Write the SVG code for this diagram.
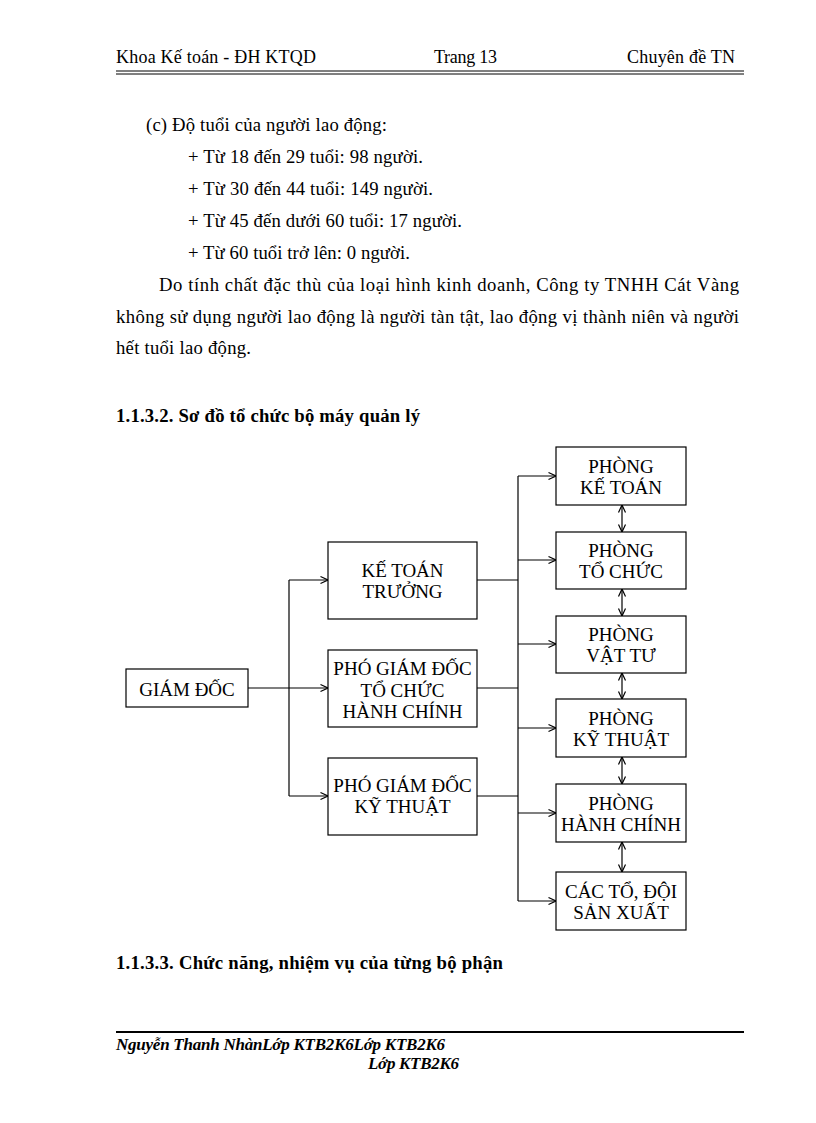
<svg xmlns="http://www.w3.org/2000/svg" width="816" height="1123" viewBox="0 0 816 1123">
<style>
.t{font-family:"Liberation Serif","Times New Roman",serif;fill:#000}
.hd{font-size:18px}
.body{font-size:18.7px}
.b{font-weight:bold;font-size:18.7px}
.bi{font-weight:bold;font-style:italic;font-size:17px}
.lbl{font-family:"Liberation Serif","Times New Roman",serif;font-size:19px;text-anchor:middle;fill:#000}
.box{fill:#fff;stroke:#000;stroke-width:1.2}
.con{stroke:#000;stroke-width:1.2;fill:none}
.arr{stroke:#000;stroke-width:1.2;fill:none;marker-end:url(#ah)}
.dbl{stroke:#000;stroke-width:1.2;fill:none;marker-start:url(#ah);marker-end:url(#ah)}
</style>
<defs>
<marker id="ah" markerWidth="10" markerHeight="10" refX="9" refY="5" orient="auto-start-reverse" markerUnits="userSpaceOnUse">
<path d="M1.5,1.5 L9,5 L1.5,8.5" fill="none" stroke="#000" stroke-width="1.2"/>
</marker>
</defs>
<rect width="816" height="1123" fill="#fff"/>
<g id="header">
<text class="t hd" x="116" y="63" textLength="200">Khoa Kế toán - ĐH KTQD</text>
<text class="t hd" x="434" y="63" textLength="63">Trang 13</text>
<text class="t hd" x="627" y="63" textLength="108">Chuyên đề TN</text>
<line x1="116" y1="71" x2="744" y2="71" stroke="#000" stroke-width="1"/>
<line x1="116" y1="74" x2="744" y2="74" stroke="#000" stroke-width="1"/>
</g>
<g id="body-text">
<text class="t body" x="146" y="131" textLength="241">(c) Độ tuổi của người lao động:</text>
<text class="t body" x="188" y="163" textLength="235">+ Từ 18 đến 29 tuổi: 98 người.</text>
<text class="t body" x="188" y="195" textLength="245">+ Từ 30 đến 44 tuổi: 149 người.</text>
<text class="t body" x="188" y="227" textLength="274">+ Từ 45 đến dưới 60 tuổi: 17 người.</text>
<text class="t body" x="188" y="259" textLength="222">+ Từ 60 tuổi trở lên: 0 người.</text>
<text class="t body" x="159" y="291" textLength="580">Do tính chất đặc thù của loại hình kinh doanh, Công ty TNHH Cát Vàng</text>
<text class="t body" x="116" y="323" textLength="623">không sử dụng người lao động là người tàn tật, lao động vị thành niên và người</text>
<text class="t body" x="116" y="354" textLength="135">hết tuổi lao động.</text>
<text class="t b" x="116" y="422" textLength="304">1.1.3.2. Sơ đồ tổ chức bộ máy quản lý</text>
<text class="t b" x="116" y="969" textLength="387">1.1.3.3. Chức năng, nhiệm vụ của từng bộ phận</text>
</g>
<g id="connectors">
<line class="con" x1="248" y1="688" x2="289" y2="688"/>
<line class="con" x1="289" y1="580" x2="289" y2="796"/>
<line class="arr" x1="289" y1="580" x2="328" y2="580"/>
<line class="arr" x1="289" y1="688" x2="328" y2="688"/>
<line class="arr" x1="289" y1="796" x2="328" y2="796"/>
<line class="con" x1="477" y1="580" x2="518" y2="580"/>
<line class="con" x1="477" y1="688" x2="518" y2="688"/>
<line class="con" x1="477" y1="796" x2="518" y2="796"/>
<line class="con" x1="518" y1="476" x2="518" y2="901"/>
<line class="arr" x1="518" y1="476" x2="556" y2="476"/>
<line class="arr" x1="518" y1="560" x2="556" y2="560"/>
<line class="arr" x1="518" y1="644" x2="556" y2="644"/>
<line class="arr" x1="518" y1="728" x2="556" y2="728"/>
<line class="arr" x1="518" y1="813" x2="556" y2="813"/>
<line class="arr" x1="518" y1="901" x2="556" y2="901"/>
<line class="dbl" x1="622" y1="505" x2="622" y2="532"/>
<line class="dbl" x1="622" y1="589" x2="622" y2="616"/>
<line class="dbl" x1="622" y1="673" x2="622" y2="699"/>
<line class="dbl" x1="622" y1="757" x2="622" y2="784"/>
<line class="dbl" x1="622" y1="842" x2="622" y2="872"/>
</g>
<g id="giam-doc">
<rect class="box" x="126" y="669" width="122" height="38"/>
<text class="lbl" x="187" y="696">GIÁM ĐỐC</text>
</g>
<g id="ke-toan-truong">
<rect class="box" x="328" y="542" width="149" height="77"/>
<text class="lbl" x="402.5" y="577">KẾ TOÁN</text>
<text class="lbl" x="402.5" y="598">TRƯỞNG</text>
</g>
<g id="pgd-tchc">
<rect class="box" x="328" y="650" width="149" height="77"/>
<text class="lbl" x="402.5" y="675">PHÓ GIÁM ĐỐC</text>
<text class="lbl" x="402.5" y="697">TỔ CHỨC</text>
<text class="lbl" x="402.5" y="718">HÀNH CHÍNH</text>
</g>
<g id="pgd-kt">
<rect class="box" x="328" y="758" width="149" height="77"/>
<text class="lbl" x="402.5" y="792">PHÓ GIÁM ĐỐC</text>
<text class="lbl" x="402.5" y="813">KỸ THUẬT</text>
</g>
<g id="phong-ke-toan">
<rect class="box" x="556" y="447" width="130" height="58"/>
<text class="lbl" x="621" y="473">PHÒNG</text>
<text class="lbl" x="621" y="494">KẾ TOÁN</text>
</g>
<g id="phong-to-chuc">
<rect class="box" x="556" y="532" width="130" height="57"/>
<text class="lbl" x="621" y="557">PHÒNG</text>
<text class="lbl" x="621" y="578">TỔ CHỨC</text>
</g>
<g id="phong-vat-tu">
<rect class="box" x="556" y="616" width="130" height="57"/>
<text class="lbl" x="621" y="641">PHÒNG</text>
<text class="lbl" x="621" y="662">VẬT TƯ</text>
</g>
<g id="phong-ky-thuat">
<rect class="box" x="556" y="699" width="130" height="58"/>
<text class="lbl" x="621" y="725">PHÒNG</text>
<text class="lbl" x="621" y="746">KỸ THUẬT</text>
</g>
<g id="phong-hanh-chinh">
<rect class="box" x="556" y="784" width="130" height="58"/>
<text class="lbl" x="621" y="810">PHÒNG</text>
<text class="lbl" x="621" y="831">HÀNH CHÍNH</text>
</g>
<g id="cac-to-doi">
<rect class="box" x="556" y="872" width="130" height="58"/>
<text class="lbl" x="621" y="898">CÁC TỔ, ĐỘI</text>
<text class="lbl" x="621" y="919">SẢN XUẤT</text>
</g>
<g id="footer">
<line x1="116" y1="1032" x2="744" y2="1032" stroke="#000" stroke-width="2"/>
<text class="t bi" x="116" y="1050" textLength="329">Nguyễn Thanh NhànLớp KTB2K6Lớp KTB2K6</text>
<text class="t bi" x="368" y="1069" textLength="91">Lớp KTB2K6</text>
</g>
</svg>
